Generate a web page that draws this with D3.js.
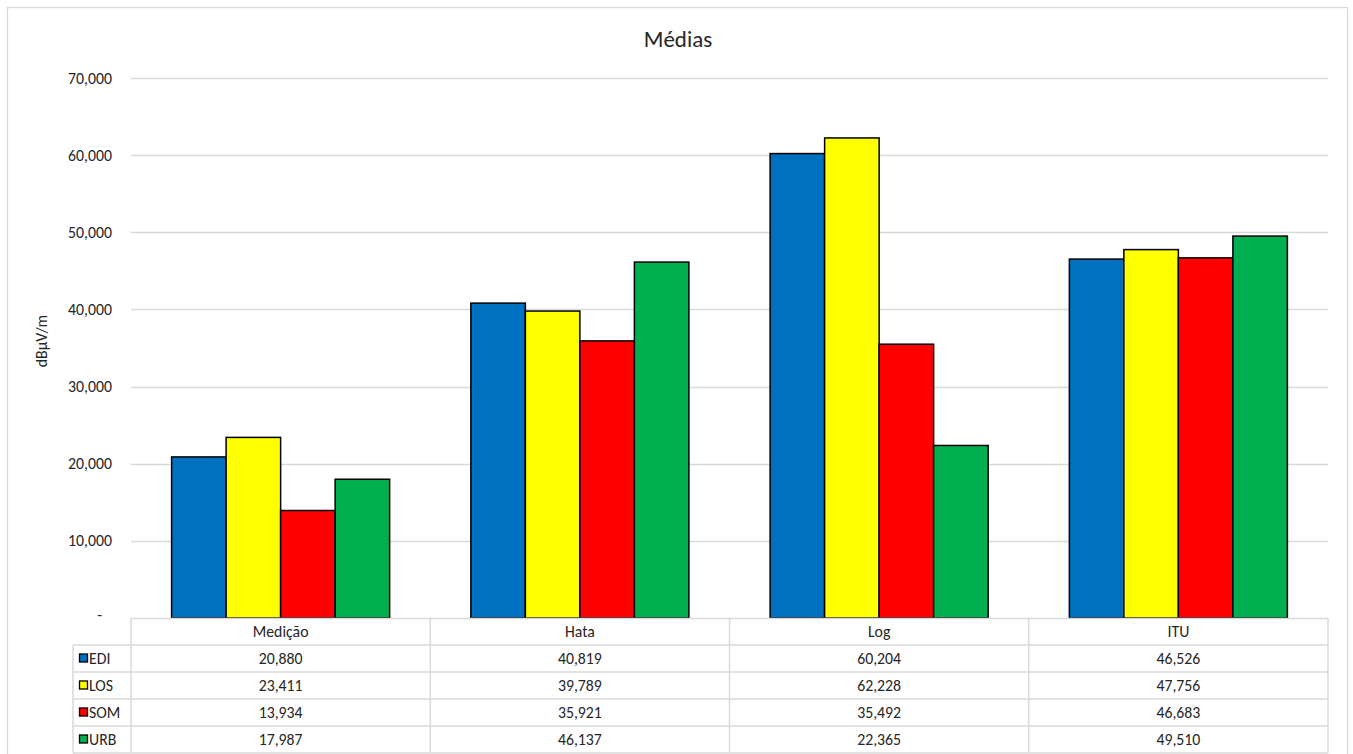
<!DOCTYPE html>
<html>
<head>
<meta charset="utf-8">
<script src="https://cdn.jsdelivr.net/npm/d3@7"></script>
<style>
  html, body { margin: 0; padding: 0; background: #ffffff; }
  svg { display: block; }
  text { font-family: Carlito, Calibri, Lato, "Open Sans", sans-serif; fill: #262626; }
</style>
</head>
<body>
<svg id="chart" width="1353" height="754"></svg>
<script>
// Mean field strength per prediction model
const categories = ["Medição", "Hata", "Log", "ITU"];
const seriesNames = ["EDI", "LOS", "SOM", "URB"];
const seriesColors = ["#0070C0", "#FFFF00", "#FF0000", "#00B050"];
const EDI = [20.880, 40.819, 60.204, 46.526];
const LOS = [23.411, 39.789, 62.228, 47.756];
const SOM = [13.934, 35.921, 35.492, 46.683];
const URB = [17.987, 46.137, 22.365, 49.510];
const yTicks = [0, 10, 20, 30, 40, 50, 60, 70];
const chartTitle = "Médias";
const yTitle = "dBµV/m";

const seriesValues = [EDI, LOS, SOM, URB];

const svg = d3.select("#chart");

const plot = { left: 131, right: 1328, top: 78, bottom: 618 };
const rowH = 27;
const keyColLeft = 73;
const gridColor = "#d9d9d9";
const labelSize = "15.8px";

// decimal comma, three decimals, dash for zero
const ptBR = d3.formatLocale({ decimal: ",", thousands: ".", grouping: [3], currency: ["R$", ""] });
const fmt = ptBR.format(".3f");

// outer frame
svg.append("rect")
  .attr("x", 7.5).attr("y", 7.5)
  .attr("width", 1340).attr("height", 780)
  .attr("fill", "#ffffff").attr("stroke", gridColor).attr("stroke-width", 1.3);

// title
svg.append("text")
  .attr("x", 678).attr("y", 47)
  .attr("text-anchor", "middle")
  .style("font-size", "23px")
  .text(chartTitle);

const y = d3.scaleLinear().domain([0, 70]).range([plot.bottom, plot.top]);
const x0 = d3.scaleBand().domain(categories).range([plot.left, plot.right]).paddingInner(0).paddingOuter(0);
const x1 = d3.scaleBand().domain(seriesNames).range([0, x0.bandwidth()]).paddingInner(0).paddingOuter(0.745);

// gridlines
svg.append("g")
  .selectAll("line")
  .data(yTicks.filter(d => d > 0))
  .join("line")
  .attr("x1", plot.left).attr("x2", plot.right)
  .attr("y1", d => Math.round(y(d)) + 0.5).attr("y2", d => Math.round(y(d)) + 0.5)
  .attr("stroke", gridColor).attr("stroke-width", 1.3);

// y axis labels
const yAxis = d3.axisLeft(y)
  .tickValues(yTicks)
  .tickSize(0)
  .tickPadding(19)
  .tickFormat(d => d === 0 ? "-" : fmt(d));
const gy = svg.append("g")
  .attr("transform", `translate(${plot.left},0)`)
  .call(yAxis);
gy.select(".domain").remove();
gy.selectAll("text")
  .style("font-size", labelSize)
  .style("font-family", "Carlito, Calibri, Lato, sans-serif")
  .attr("fill", "#262626");
gy.selectAll(".tick").filter(d => d === 0).select("text").attr("dx", -10).attr("dy", "0.1em");

// y title
svg.append("text")
  .attr("transform", "translate(47,341) rotate(-90)")
  .attr("text-anchor", "middle")
  .style("font-size", labelSize)
  .text(yTitle);

// bars
const groups = svg.append("g")
  .selectAll("g")
  .data(categories)
  .join("g")
  .attr("transform", d => `translate(${x0(d)},0)`);

groups.selectAll("rect")
  .data((c, ci) => seriesNames.map((s, si) => ({ s, si, v: seriesValues[si][ci] })))
  .join("rect")
  .attr("x", d => x1(d.s))
  .attr("y", d => y(d.v))
  .attr("width", x1.bandwidth())
  .attr("height", d => y(0) - y(d.v))
  .attr("fill", d => seriesColors[d.si])
  .attr("stroke", "#000000")
  .attr("stroke-width", 1.5);

// data table
const table = svg.append("g");
const tableTop = plot.bottom;
const tableBottom = tableTop + rowH * (seriesNames.length + 1);

// horizontal lines
table.append("line")
  .attr("x1", plot.left).attr("x2", plot.right)
  .attr("y1", tableTop + 0.5).attr("y2", tableTop + 0.5)
  .attr("stroke", gridColor).attr("stroke-width", 1.5);
for (let r = 1; r <= seriesNames.length + 1; r++) {
  table.append("line")
    .attr("x1", keyColLeft).attr("x2", plot.right)
    .attr("y1", tableTop + r * rowH).attr("y2", tableTop + r * rowH)
    .attr("stroke", gridColor).attr("stroke-width", 1.5);
}
// vertical lines
table.append("line")
  .attr("x1", keyColLeft).attr("x2", keyColLeft)
  .attr("y1", tableTop + rowH).attr("y2", tableBottom)
  .attr("stroke", gridColor).attr("stroke-width", 1.5);
const colEdges = categories.map(c => x0(c)).concat([plot.right]);
table.selectAll("line.col")
  .data(colEdges)
  .join("line")
  .attr("class", "col")
  .attr("x1", d => d).attr("x2", d => d)
  .attr("y1", tableTop).attr("y2", tableBottom)
  .attr("stroke", gridColor).attr("stroke-width", 1.5);

// header
table.selectAll("text.head")
  .data(categories)
  .join("text")
  .attr("class", "head")
  .attr("x", d => x0(d) + x0.bandwidth() / 2)
  .attr("y", tableTop + rowH / 2)
  .attr("dy", "0.35em")
  .attr("text-anchor", "middle")
  .style("font-size", labelSize)
  .text(d => d);

// series rows
seriesNames.forEach((s, si) => {
  const cy = tableTop + (si + 1) * rowH + rowH / 2;
  table.append("rect")
    .attr("x", 79.5).attr("y", cy - 4.5)
    .attr("width", 8).attr("height", 8)
    .attr("fill", seriesColors[si])
    .attr("stroke", "#000000").attr("stroke-width", 1.3);
  table.append("text")
    .attr("x", 89).attr("y", cy)
    .attr("dy", "0.35em")
    .style("font-size", labelSize)
    .text(s);
  table.selectAll(null)
    .data(categories)
    .join("text")
    .attr("x", (c) => x0(c) + x0.bandwidth() / 2)
    .attr("y", cy)
    .attr("dy", "0.35em")
    .attr("text-anchor", "middle")
    .style("font-size", labelSize)
    .text((c, ci) => fmt(seriesValues[si][ci]));
});
</script>
</body>
</html>
